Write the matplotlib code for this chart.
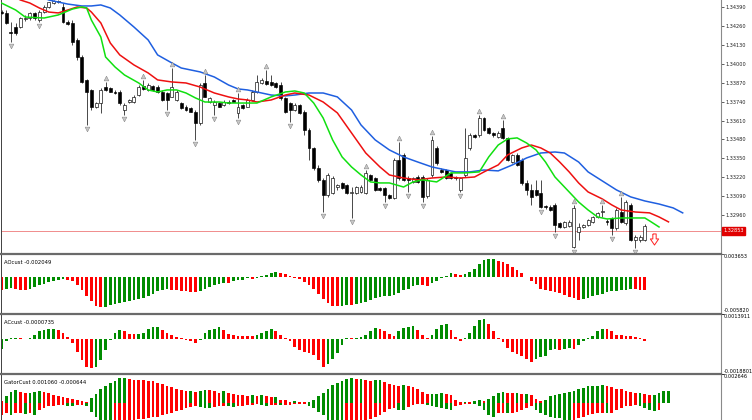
import numpy as np
import matplotlib
matplotlib.use("Agg")
import matplotlib.pyplot as plt
from matplotlib.transforms import blended_transform_factory, offset_copy

# --- CANDLES (prices in points, 1 point = 0.00001) ---
opens = [134357, 134351, 134220, 134254, 134254, 134309, 134316, 134351, 134302, 134357,
         134392, 134419, 134426, 134392, 134289, 134282, 134165, 134048, 133890, 133821,
         133704, 133731, 133841, 133835, 133807, 133807, 133683, 133738, 133738, 133786,
         133848, 133821, 133848, 133841, 133807, 133800, 133773, 133752, 133731, 133704,
         133697, 133670, 133594, 133869, 133738, 133718, 133731, 133718, 133738, 133752,
         133663, 133718, 133704, 133752, 133807, 133869, 133883, 133876, 133869, 133855,
         133766, 133731, 133683, 133718, 133670, 133546, 133422, 133284, 133202, 133098,
         133112, 133153, 133181, 133167, 133112, 133112, 133119, 133112, 133236, 133215,
         133146, 133146, 133098, 133078, 133339, 133374, 133215, 133188, 133222, 133222,
         133092, 133236, 133422, 133270, 133270, 133250, 133222, 133133, 133236, 133422,
         133511, 133511, 133628, 133559, 133525, 133497, 133559, 133491, 133325, 133374,
         133339, 133181, 133133, 133133, 133112, 133023, 133016, 133030, 132906, 132878,
         132885, 132741, 132844, 132878, 132892, 132913, 132947, 132981, 132920, 132940,
         132871, 132981, 132906, 133030, 132789, 132789, 132789]
highs = [134371, 134371, 134289, 134282, 134323, 134337, 134357, 134357, 134371, 134406,
         134426, 134440, 134440, 134419, 134302, 134302, 134179, 134062, 133897, 133828,
         133738, 133835, 133876, 133841, 133821, 133821, 133731, 133759, 133786, 133855,
         133890, 133869, 133855, 133855, 133821, 133807, 133972, 133821, 133738, 133718,
         133704, 133683, 133869, 133924, 133773, 133752, 133738, 133752, 133752, 133759,
         133800, 133724, 133766, 133821, 133924, 133903, 133958, 133924, 133876, 133876,
         133773, 133738, 133731, 133724, 133683, 133559, 133429, 133305, 133215, 133250,
         133229, 133174, 133188, 133174, 133153, 133160, 133167, 133270, 133243, 133222,
         133153, 133153, 133105, 133353, 133463, 133387, 133229, 133222, 133236, 133236,
         133215, 133504, 133436, 133284, 133277, 133257, 133229, 133222, 133559, 133525,
         133518, 133649, 133635, 133566, 133532, 133539, 133614, 133497, 133380, 133387,
         133353, 133202, 133174, 133202, 133202, 133030, 133030, 133043, 132913, 132920,
         132927, 133030, 132906, 132899, 132933, 132954, 132981, 133030, 132933, 132947,
         133009, 133085, 133064, 133043, 132823, 132823, 132899]
lows = [134344, 134275, 134151, 134199, 134247, 134296, 134302, 134302, 134289, 134351,
        134385, 134412, 134419, 134282, 134268, 134130, 134027, 133869, 133580, 133683,
        133697, 133663, 133814, 133807, 133793, 133718, 133649, 133731, 133731, 133780,
        133821, 133814, 133814, 133800, 133745, 133683, 133773, 133745, 133690, 133676,
        133670, 133477, 133580, 133773, 133731, 133649, 133704, 133711, 133724, 133738,
        133628, 133690, 133704, 133745, 133800, 133862, 133855, 133848, 133835, 133752,
        133663, 133601, 133676, 133656, 133511, 133339, 133270, 133188, 132981, 133085,
        133105, 133133, 133140, 133105, 132940, 133105, 133112, 133105, 133195, 133126,
        133126, 133050, 133071, 133071, 133202, 133195, 133119, 133181, 133181, 133050,
        133078, 133222, 133305, 133250, 133208, 133208, 133202, 133119, 133222, 133408,
        133491, 133497, 133539, 133518, 133497, 133491, 133484, 133332, 133319, 133298,
        133167, 133098, 133030, 133092, 133009, 133002, 132988, 132844, 132871, 132871,
        132878, 132734, 132789, 132871, 132885, 132906, 132940, 132947, 132892, 132823,
        132858, 132906, 132892, 132782, 132734, 132775, 132782]
closes = [134351, 134282, 134213, 134213, 134316, 134316, 134351, 134316, 134357, 134392,
          134426, 134433, 134433, 134289, 134275, 134151, 134048, 133876, 133807, 133704,
          133731, 133821, 133821, 133807, 133800, 133731, 133718, 133752, 133773, 133841,
          133828, 133855, 133821, 133807, 133752, 133752, 133841, 133807, 133697, 133683,
          133670, 133594, 133855, 133773, 133766, 133738, 133704, 133738, 133731, 133738,
          133704, 133697, 133752, 133807, 133876, 133890, 133862, 133855, 133841, 133766,
          133670, 133683, 133718, 133663, 133546, 133422, 133284, 133202, 133098, 133236,
          133215, 133167, 133146, 133112, 133119, 133153, 133153, 133250, 133202, 133133,
          133133, 133098, 133078, 133339, 133215, 133202, 133202, 133215, 133188, 133085,
          133202, 133477, 133319, 133257, 133215, 133215, 133215, 133215, 133353, 133511,
          133497, 133628, 133546, 133525, 133511, 133525, 133491, 133339, 133374, 133305,
          133181, 133133, 133085, 133098, 133016, 133016, 132995, 132892, 132878, 132913,
          132913, 133009, 132878, 132892, 132927, 132947, 132975, 132985, 132913, 132871,
          132995, 132913, 133050, 132789, 132810, 132810, 132885]

# --- ALLIGATOR LINES (bar index, price in points) ---
jaw_bars = [8, 10, 14, 17, 19, 21, 23, 25, 28, 31, 33, 36, 38, 42, 45, 48, 50, 52, 54, 57,
            60, 62, 65, 68, 71, 74, 76, 79, 82, 85, 88, 91, 93, 96, 99, 102, 105, 108, 111, 114,
            117, 119, 122, 124, 127, 130, 133, 136, 139, 142, 144]
jaw_pts = [134468, 134440, 134412, 134399, 134399, 134406, 134385, 134337, 134254, 134165,
           134062, 134007, 133972, 133945, 133910, 133855, 133828, 133821, 133807, 133786,
           133780, 133786, 133800, 133800, 133773, 133683, 133580, 133477, 133408, 133360,
           133325, 133291, 133277, 133257, 133257, 133270, 133264, 133305, 133353, 133387,
           133394, 133387, 133325, 133257, 133195, 133133, 133085, 133057, 133036, 133009, 132975]
teeth_bars = [2, 4, 6, 8, 10, 12, 14, 16, 18, 19, 21, 23, 25, 28, 31, 33, 36, 39, 42, 45,
              48, 50, 52, 54, 57, 60, 62, 65, 68, 71, 74, 77, 80, 82, 85, 88, 91, 94, 97, 100,
              102, 105, 107, 110, 112, 114, 116, 118, 120, 122, 124, 127, 129, 131, 134, 137, 139, 141]
teeth_pts = [134474, 134440, 134419, 134385, 134357, 134351, 134371, 134392, 134385, 134357,
             134282, 134144, 134062, 133993, 133938, 133890, 133876, 133869, 133841, 133800,
             133773, 133759, 133752, 133738, 133752, 133786, 133800, 133786, 133738, 133663,
             133525, 133387, 133291, 133236, 133215, 133202, 133215, 133222, 133215, 133222,
             133257, 133305, 133374, 133422, 133442, 133422, 133387, 133325, 133257, 133181,
             133119, 133071, 133030, 132995, 132981, 132975, 132947, 132913]
lips_bars = [0, 3, 5, 9, 12, 15, 17, 18, 19, 21, 22, 24, 26, 29, 31, 33, 35, 37, 39, 41,
             43, 46, 48, 52, 54, 57, 60, 62, 64, 66, 68, 70, 72, 74, 76, 78, 80, 82, 85, 87,
             89, 92, 95, 98, 101, 103, 105, 107, 109, 111, 113, 115, 117, 120, 122, 124, 126, 128,
             131, 134, 136, 137, 139]
lips_pts = [134419, 134371, 134323, 134316, 134337, 134378, 134392, 134385, 134302, 134185,
            134048, 133979, 133924, 133869, 133821, 133807, 133821, 133821, 133800, 133766,
            133738, 133738, 133731, 133731, 133731, 133773, 133807, 133814, 133800, 133731,
            133628, 133477, 133360, 133291, 133236, 133188, 133181, 133181, 133153, 133188,
            133202, 133188, 133250, 133250, 133257, 133360, 133442, 133484, 133491, 133456,
            133408, 133325, 133222, 133119, 133050, 132995, 132947, 132933, 132940, 132940,
            132940, 132920, 132878]

# --- FRACTALS AND SIGNAL ---
fractal_up = [22, 30, 36, 43, 50, 56, 77, 84, 91, 101, 106, 121, 127, 131]
fractal_down = [2, 8, 18, 26, 35, 41, 45, 50, 61, 68, 74, 81, 86, 89, 97, 114, 117, 121, 129, 134]
sell_signal_bar = [138]
sell_signal_price = [1.32796]
current_price = 1.32853
price_ticks = [1.34390, 1.34260, 1.34130, 1.34000, 1.33870, 1.33740, 1.33610,
               1.33480, 1.33350, 1.33220, 1.33090, 1.32960, 1.32830]

# --- OSCILLATORS (points) ---
ao_pts = [-203, -187, -177, -198, -203, -209, -193, -161, -134, -107, -80, -59, -43, -27, -43,
          -64, -134, -214, -310, -385, -455, -482, -471, -449, -428, -407, -391, -385, -375, -358,
          -337, -310, -268, -225, -203, -198, -209, -214, -225, -230, -241, -246, -225, -193, -161,
          -134, -107, -91, -96, -64, -54, -43, -21,
          -27, -16, 11, 27, 64, 75, 70, 54, 21, -11, -27, -80, -134, -187, -268, -348, -417, -455,
          -465, -455, -439, -449, -428, -417, -401, -364, -337, -321, -310, -300, -284, -257, -214,
          -187, -144, -123, -134, -144, -96, -64, -16, 21,
          64, 43, 27, 54, 80, 134, 203, 268, 278, 284, 251, 241, 203, 161, 118, 64, -5, -64, -118,
          -187, -214, -219, -241, -257, -294, -321, -337, -364, -353, -332, -310, -294, -268, -241,
          -225, -219, -214, -203, -187, -198, -203, -204.9]
ac_pts = [-55, -9, 4, 5, 4, 2, 4, 24, 42, 51, 55, 56, 51, 36, 11, -22, -67, -113, -148, -153,
          -149, -113, -58, -4, 33, 51, 47, 29, 27, 29, 36, 55, 65, 66, 51, 36, 24, 11, 4, -4,
          -7, -18, -4, 36, 51, 55, 65, 51, 29, 24, 18, 17, 15,
          15, 22, 33, 47, 56, 45, 24, 7, -11, -40, -58, -67, -73, -85, -113, -149, -134, -109, -73,
          -31, 5, 4, 6, 11, 24, 45, 60, 55, 42, 29, 18, 42, 60, 65, 69, 51, 24, 5, 24, 55, 78, 84,
          51, 11, -7, 5, 33, 73, 102, 109, 84, 47, 5, -13, -49, -67, -80, -91, -109, -122, -109,
          -94, -91, -58, -55, -56, -51, -49, -51, -31, -7, 4, 18, 42, 55, 54, 42, 24, 23, 18, 17,
          11, 4, -7.35]
gator_up_pts = [16, 62, 100, 119, 100, 87, 88, 100, 109, 100, 87, 75, 62, 53, 47, 37, 25, 16, 6,
                47, 78, 125, 156, 187, 203, 225, 226, 218, 212, 209, 206, 203, 202, 187, 172, 156,
                147, 131, 119, 109, 110, 100, 109, 119, 118, 109, 94, 109, 87, 78, 77, 69, 68,
                69, 62, 69, 62, 53, 56, 31, 25, 9, 16, 9, 6, 7, 31, 62, 94, 125, 162, 187, 203,
                218, 225, 218, 219, 212, 203, 209, 210, 193, 172, 162, 156, 162, 156, 150, 125,
                100, 78, 79, 84, 87, 78,
                69, 31, 6, 7, 6, 16, 31, 16, 37, 62, 87, 100, 94, 87, 88, 78, 79, 69, 37, 16, 25,
                62, 69, 78, 87, 100, 109, 125, 140, 156, 157, 158, 162, 156, 147, 131, 125, 109,
                100, 94, 95, 78, 69, 70, 94, 105, 106]
gator_down_pts = [109, 94, 109, 94, 87, 103, 94, 109, 62, 47, 31, 25, 19, 16, 25, 31, 19, 16, 31,
                  78, 125, 156, 181, 187, 181, 175, 168, 162, 156, 150, 144, 137, 131, 125, 112,
                  100, 87, 75, 62, 50, 37, 31, 37, 44, 47, 37, 31, 25, 31, 37, 31, 25, 19,
                  16, 9, 16, 25, 22, 16, 22, 21, 16, 12, 9, 6, 25, 47, 78, 109, 156, 206, 234,
                  256, 250, 234, 212, 193, 172, 150, 131, 109, 81, 56, 47, 62, 63, 37, 22, 9, 6,
                  16, 28, 37, 47, 56,
                  62, 31, 16, 9, 6, 7, 31, 62, 109, 125, 94, 93, 94, 87, 78, 62, 47, 31, 62, 94,
                  109, 125, 140, 141, 156, 157, 156, 140, 125, 109, 100, 94, 93, 94, 87, 62, 47,
                  31, 25, 16, 31, 47, 62, 69, 64.4]

ao_range = (-0.005820, 0.003653)
ac_range = (-0.0018801, 0.0013911)
gator_top = 0.002646

PT = 1e-5
GREEN = '#008c00'
RED = '#ff0000'


def trend_colors(values, first):
    cols = [first]
    for prev, cur in zip(values[:-1], values[1:]):
        cols.append(GREEN if cur > prev else RED)
    return cols


o = np.array(opens) * PT
h = np.array(highs) * PT
l = np.array(lows) * PT
c = np.array(closes) * PT
x = np.arange(len(o))

W, H = 752, 420
fig = plt.figure(figsize=(W / 100, H / 100), dpi=100)
fig.patch.set_facecolor('white')


def rect(top, bottom):
    return [1 / W, 1 - bottom / H, 720 / W, (bottom - top) / H]


ax = fig.add_axes(rect(0, 254))
ax_ao = fig.add_axes(rect(254, 313.5))
ax_ac = fig.add_axes(rect(313.5, 374))
ax_gt = fig.add_axes(rect(374, 420))

XMIN, XMAX = -0.106, 152.1
for a in (ax, ax_ao, ax_ac, ax_gt):
    a.set_xlim(XMIN, XMAX)
    a.set_xticks([])
    a.yaxis.tick_right()
    a.tick_params(axis='y', labelsize=3.6, length=2, width=0.5, pad=1,
                  colors='#202020')
    a.spines['bottom'].set_visible(False)
    a.spines['left'].set_color('#404040')
    a.spines['left'].set_linewidth(0.7)
    a.spines['right'].set_color('#8a8a8a')
    a.spines['right'].set_linewidth(0.8)
ax.spines['top'].set_visible(False)
for a in (ax_ao, ax_ac, ax_gt):
    a.spines['top'].set_color('#6a6a6a')
    a.spines['top'].set_linewidth(1.6)

# --- MAIN PRICE PANEL ---
ax.set_ylim(1.32692, 1.34440)
ax.axhline(current_price, color='#f08c8c', lw=0.7, zorder=1)
ax.vlines(x, l, h, color='black', lw=0.5, zorder=2)
body_col = ['white' if cc >= oo else 'black' for oo, cc in zip(o, c)]
ax.bar(x, np.maximum(np.abs(c - o), 0.000005), bottom=np.minimum(o, c), width=0.62,
       color=body_col, edgecolor='black', linewidth=0.45, zorder=3)

ax.plot(jaw_bars, np.array(jaw_pts) * PT, color='#1f5fe0', lw=1.1, zorder=4)
ax.plot(teeth_bars, np.array(teeth_pts) * PT, color='#ee1010', lw=1.1, zorder=4)
ax.plot(lips_bars, np.array(lips_pts) * PT, color='#10e010', lw=1.1, zorder=4)

up_tr = offset_copy(ax.transData, fig=fig, y=4, units='dots')
dn_tr = offset_copy(ax.transData, fig=fig, y=-4, units='dots')
ax.plot(fractal_up, h[fractal_up], '^', transform=up_tr, ms=3.4, mfc='#c8c8c8',
        mec='#8a8a8a', mew=0.4, ls='none', zorder=5)
ax.plot(fractal_down, l[fractal_down], 'v', transform=dn_tr, ms=3.4, mfc='#c8c8c8',
        mec='#8a8a8a', mew=0.4, ls='none', zorder=5)

arrow = [(-0.3, 1), (0.3, 1), (0.3, 0.1), (0.75, 0.1), (0, -1), (-0.75, 0.1), (-0.3, 0.1),
         (-0.3, 1)]
ax.plot(sell_signal_bar, sell_signal_price, marker=arrow, ms=8, mfc='white', mec='#ff2020',
        mew=0.7, ls='none', zorder=5)

ax.set_yticks(price_ticks)
ax.set_yticklabels([f'{t:.5f}' for t in price_ticks])
btr = blended_transform_factory(ax.transAxes, ax.transData)
ax.text(1.003, current_price, f'{current_price:.5f}', transform=btr, fontsize=3.6,
        color='white', va='center', ha='left', zorder=10,
        bbox=dict(boxstyle='square,pad=0.3', fc='#e00000', ec='#e00000'))

# --- AO PANEL ---
ax_ao.set_ylim(*ao_range)
ao = np.array(ao_pts) * PT
ax_ao.bar(np.arange(len(ao)), ao, width=0.58, color=trend_colors(ao, RED), linewidth=0)
ax_ao.text(0.004, 0.9, f'AOcust {ao[-1]:.6f}', transform=ax_ao.transAxes, fontsize=3.8,
           va='top', ha='left')

# --- AC PANEL ---
ax_ac.set_ylim(*ac_range)
ac = np.array(ac_pts) * PT
ax_ac.bar(np.arange(len(ac)), ac, width=0.58, color=trend_colors(ac, GREEN), linewidth=0)
ax_ac.text(0.004, 0.9, f'ACcust {ac[-1]:.7f}', transform=ax_ac.transAxes, fontsize=3.8,
           va='top', ha='left')

# --- GATOR PANEL ---
ax_gt.set_ylim(-0.00155, gator_top)
gu = np.array(gator_up_pts) * PT
gd = np.array(gator_down_pts) * PT
ax_gt.bar(np.arange(len(gu)), gu, width=0.58, color=trend_colors(gu, RED), linewidth=0)
ax_gt.bar(np.arange(len(gd)), -gd, width=0.58, color=trend_colors(gd, RED), linewidth=0)
ax_gt.text(0.004, 0.87, f'GatorCust {gu[-1]:.6f} {-gd[-1]:.6f}', transform=ax_gt.transAxes,
           fontsize=3.8, va='top', ha='left')

# right scale labels of the sub panels
for a, lo, hi, fmt in ((ax_ao, ao_range[0], ao_range[1], '{:.6f}'),
                       (ax_ac, ac_range[0], ac_range[1], '{:.7f}')):
    a.set_yticks([lo, hi])
    a.set_yticklabels(['', ''])
    tr = blended_transform_factory(a.transAxes, a.transData)
    a.text(1.004, hi, fmt.format(hi), transform=tr, fontsize=3.6, va='top', ha='left')
    a.text(1.004, lo, fmt.format(lo), transform=tr, fontsize=3.6, va='bottom', ha='left')
ax_gt.set_yticks([gator_top])
ax_gt.set_yticklabels([''])
gtr = blended_transform_factory(ax_gt.transAxes, ax_gt.transData)
ax_gt.text(1.004, gator_top, f'{gator_top:.6f}', transform=gtr, fontsize=3.6, va='top',
           ha='left')

fig.savefig('out.png', dpi=100, facecolor='white')
